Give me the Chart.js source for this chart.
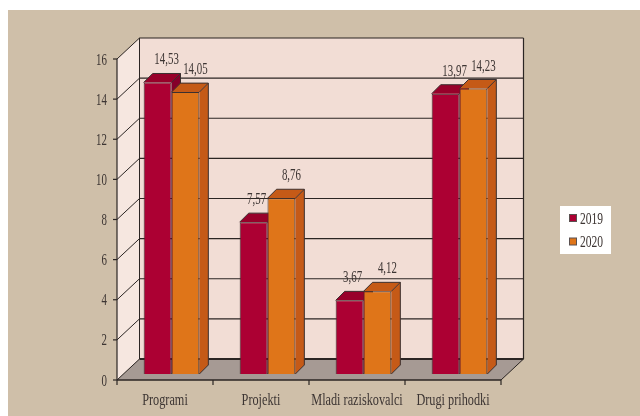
<!DOCTYPE html>
<html>
<head>
<meta charset="utf-8">
<title>Programi in projekti</title>
<script src="https://cdn.jsdelivr.net/npm/chart.js@4"></script>
<style>
    html, body { margin: 0; padding: 0; background: #fff; }
    canvas { display: block; }
</style>
</head>
<body>
<canvas id="budgetChart" width="640" height="416"></canvas>
<script>
// ==================== DATA ====================
const categories = ['Programi', 'Projekti', 'Mladi raziskovalci', 'Drugi prihodki'];
const values2019 = [14.53, 7.57, 3.67, 13.97];
const values2020 = [14.05, 8.76, 4.12, 14.23];
const valueTicks = [0, 2, 4, 6, 8, 10, 12, 14, 16];

// ==================== STYLE ====================
const TEXT_COLOR = '#3d3533';
const LINE_COLOR = '#2b2523';
const WALL = { x: 22.5, y: -21 };     // back wall offset from the front plane
const BAR_SHIFT = { x: 6.5, y: -6 };  // bars stand a bit inside the floor
const BAR_DEPTH = 9;

const seriesColors = [
    { front: '#ac0033', top: '#98002a', side: '#85002a' }, // 2019
    { front: '#df7519', top: '#c55a17', side: '#c55a17' }  // 2020
];

// Serif squeezed horizontally, the original uses a condensed face
function drawText(ctx, text, x, y, align, squeeze) {
    ctx.save();
    ctx.font = '17px "Liberation Serif"';
    ctx.fillStyle = TEXT_COLOR;
    ctx.textAlign = align;
    ctx.textBaseline = 'alphabetic';
    ctx.translate(x, y);
    ctx.scale(squeeze, 1);
    ctx.fillText(text, 0, 0);
    ctx.restore();
}

function polygon(ctx, points, fill) {
    ctx.beginPath();
    points.forEach((p, i) => i ? ctx.lineTo(p[0], p[1]) : ctx.moveTo(p[0], p[1]));
    ctx.closePath();
    ctx.fillStyle = fill;
    ctx.fill();
}

function line(ctx, x1, y1, x2, y2, width) {
    ctx.beginPath();
    ctx.moveTo(x1, y1);
    ctx.lineTo(x2, y2);
    ctx.lineWidth = width;
    ctx.strokeStyle = LINE_COLOR;
    ctx.stroke();
}

// ==================== 3D BOX BEHIND THE BARS ====================
const boxPlugin = {
    id: 'box',
    beforeDraw(chart) {
        const { ctx, chartArea: a, scales: { x, y } } = chart;
        const bx = WALL.x, by = WALL.y;

        ctx.save();
        ctx.fillStyle = '#fff';
        ctx.fillRect(0, 0, chart.width, chart.height);
        ctx.fillStyle = '#cfbfa9';
        ctx.fillRect(8, 10, chart.width - 8, chart.height - 10);

        // Walls and floor
        polygon(ctx, [[a.left + bx, a.top + by], [a.right + bx, a.top + by], [a.right + bx, a.bottom + by], [a.left + bx, a.bottom + by]], '#f2ddd5');
        polygon(ctx, [[a.left, a.top], [a.left + bx, a.top + by], [a.left + bx, a.bottom + by], [a.left, a.bottom]], '#f6e7e0');
        polygon(ctx, [[a.left, a.bottom], [a.left + bx, a.bottom + by], [a.right + bx, a.bottom + by], [a.right, a.bottom]], '#a69a94');

        // Gridlines run along the left wall and the back wall
        valueTicks.forEach(v => {
            const py = y.getPixelForValue(v);
            line(ctx, a.left - 4, py, a.left, py, 1.2);
            line(ctx, a.left, py, a.left + bx, py + by, 1);
            line(ctx, a.left + bx, py + by, a.right + bx, py + by, v === 0 ? 2 : 1.2);
            drawText(ctx, String(v), a.left - 10, py + 5.5, 'right', 0.64);
        });

        // Frame
        line(ctx, a.left, a.top, a.left, a.bottom, 1.2);
        line(ctx, a.left + bx, a.top + by, a.left + bx, a.bottom + by, 1);
        line(ctx, a.right + bx, a.top + by, a.right + bx, a.bottom + by, 1.2);
        line(ctx, a.left, a.bottom, a.right, a.bottom, 1.6);
        line(ctx, a.right, a.bottom, a.right + bx, a.bottom + by, 1);

        // Category ticks and labels
        const band = x.getPixelForValue(1) - x.getPixelForValue(0);
        categories.forEach((name, i) => {
            const cx = x.getPixelForValue(i);
            line(ctx, cx - band / 2, a.bottom, cx - band / 2, a.bottom + 5, 1.2);
            drawText(ctx, name, cx, 404.5, 'center', 0.72);
        });
        line(ctx, a.right, a.bottom, a.right, a.bottom + 5, 1.2);
        ctx.restore();
    }
};

// ==================== BAR SIDES, TOPS, LABELS, LEGEND ====================
const barPlugin = {
    id: 'bar3d',
    beforeDatasetsDraw(chart) {
        const { ctx } = chart;
        const d = BAR_DEPTH;
        ctx.save();
        ctx.translate(BAR_SHIFT.x, BAR_SHIFT.y);
        chart.data.datasets.forEach((ds, di) => {
            const c = seriesColors[di];
            chart.getDatasetMeta(di).data.forEach(bar => {
                const l = bar.x - bar.width / 2, r = bar.x + bar.width / 2;
                polygon(ctx, [[l, bar.y], [l + d, bar.y - d], [r + d, bar.y - d], [r, bar.y]], c.top);
                polygon(ctx, [[r, bar.y], [r + d, bar.y - d], [r + d, bar.base - d], [r, bar.base]], c.side);
                ctx.lineWidth = 1;
                ctx.strokeStyle = '#3b3030';
                ctx.lineJoin = 'round';
                ctx.beginPath();
                ctx.moveTo(l, bar.y);
                ctx.lineTo(l + d, bar.y - d);
                ctx.lineTo(r + d, bar.y - d);
                ctx.lineTo(r + d, bar.base - d);
                ctx.lineTo(r, bar.base);
                ctx.moveTo(r, bar.y);
                ctx.lineTo(r + d, bar.y - d);
                ctx.stroke();
            });
        });
        // the fronts are drawn by Chart.js inside this translate
    },
    afterDatasetsDraw(chart) {
        const { ctx } = chart;
        ctx.restore();

        // Value labels, the 2019 ones sit closer to the bar where 2020 is clearly taller
        chart.data.datasets.forEach((ds, di) => {
            chart.getDatasetMeta(di).data.forEach((bar, i) => {
                const other = chart.data.datasets[1 - di].data[i];
                const tucked = di === 0 && other - ds.data[i] > 0.3;
                const cx = bar.x + BAR_SHIFT.x + (tucked ? 3 : 9 + di);
                const py = bar.y + BAR_SHIFT.y - 18;
                drawText(ctx, ds.data[i].toFixed(2).replace('.', ','), cx, py, 'center', 0.64);
            });
        });

        // Legend
        ctx.save();
        ctx.fillStyle = '#fff';
        ctx.fillRect(560, 206, 51, 48);
        chart.data.datasets.forEach((ds, di) => {
            const top = 214 + di * 23.5;
            ctx.fillStyle = seriesColors[di].front;
            ctx.fillRect(569.5, top + 0.5, 7, 7);
            ctx.lineWidth = 1;
            ctx.strokeStyle = '#5a5050';
            ctx.strokeRect(569.5, top + 0.5, 7, 7);
            drawText(ctx, ds.label, 580, top + 9.5, 'left', 0.68);
        });
        ctx.restore();
    }
};

// ==================== CHART ====================
new Chart(document.getElementById('budgetChart').getContext('2d'), {
    type: 'bar',
    data: {
        labels: categories,
        datasets: [
            { label: '2019', data: values2019, backgroundColor: seriesColors[0].front, borderColor: '#3b3030', borderWidth: 1 },
            { label: '2020', data: values2020, backgroundColor: seriesColors[1].front, borderColor: '#3b3030', borderWidth: 1 }
        ]
    },
    options: {
        responsive: false,
        animation: false,
        layout: { padding: { left: 117, right: 139, top: 59, bottom: 36 } },
        categoryPercentage: 0.58,
        barPercentage: 1,
        plugins: {
            legend: { display: false },
            tooltip: { enabled: false }
        },
        scales: {
            x: { display: false },
            y: { display: false, min: 0, max: 16, ticks: { stepSize: 2 } }
        }
    },
    plugins: [boxPlugin, barPlugin]
});
</script>
</body>
</html>
